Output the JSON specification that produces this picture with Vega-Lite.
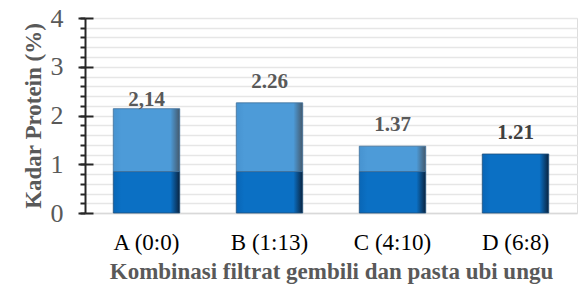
{
  "$schema": "https://vega.github.io/schema/vega-lite/v6.json",
  "width": 492,
  "height": 195,
  "autosize": {"type": "none"},
  "padding": {"left": 85, "top": 18, "right": 4, "bottom": 86},
  "background": "white",
  "config": {"font": "'Liberation Serif', 'Times New Roman', serif"},
  "datasets": {
    "bars": [
      {"kategori": "A (0:0)", "bawah": 0, "atas": 0.85, "bagian": "gelap"},
      {"kategori": "A (0:0)", "bawah": 0.85, "atas": 2.14, "bagian": "terang"},
      {"kategori": "B (1:13)", "bawah": 0, "atas": 0.85, "bagian": "gelap"},
      {"kategori": "B (1:13)", "bawah": 0.85, "atas": 2.26, "bagian": "terang"},
      {"kategori": "C (4:10)", "bawah": 0, "atas": 0.85, "bagian": "gelap"},
      {"kategori": "C (4:10)", "bawah": 0.85, "atas": 1.37, "bagian": "terang"},
      {"kategori": "D (6:8)", "bawah": 0, "atas": 1.21, "bagian": "gelap"}
    ],
    "labels": [
      {"kategori": "A (0:0)", "nilai": 2.14, "teks": "2,14"},
      {"kategori": "B (1:13)", "nilai": 2.26, "teks": "2.26"},
      {"kategori": "C (4:10)", "nilai": 1.37, "teks": "1.37"},
      {"kategori": "D (6:8)", "nilai": 1.21, "teks": "1.21"}
    ]
  },
  "encoding": {
    "x": {
      "field": "kategori",
      "type": "nominal",
      "sort": null,
      "scale": {"paddingInner": 0.46, "paddingOuter": 0.23},
      "axis": {
        "title": "Kombinasi filtrat gembili dan pasta ubi ungu",
        "titleFont": "'Liberation Serif', 'Times New Roman', serif",
        "titleFontSize": 23,
        "titleFontWeight": "bold",
        "titleColor": "#595959",
        "titlePadding": 6,
        "labelFont": "'Liberation Serif', 'Times New Roman', serif",
        "labelFontSize": 23,
        "labelColor": "#000000",
        "labelAngle": 0,
        "labelPadding": 18,
        "ticks": false,
        "domainColor": "#D9D9D9",
        "domainWidth": 1.5,
        "grid": false
      }
    }
  },
  "layer": [
    {
      "data": {"name": "bars"},
      "transform": [{"filter": "datum.bagian === 'gelap'"}],
      "mark": {
        "type": "bar",
        "stroke": "#1F4F7A",
        "strokeWidth": 0.8,
        "color": {"gradient": "linear", "x1": 0, "x2": 1, "y1": 0, "y2": 0, "stops": [
          {"offset": 0, "color": "#0966B6"},
          {"offset": 0.12, "color": "#0B70C4"},
          {"offset": 0.86, "color": "#0B70C4"},
          {"offset": 1, "color": "#0A2440"}
        ]}
      },
      "encoding": {
        "y": {
          "field": "bawah",
          "type": "quantitative",
          "scale": {"domain": [0, 4], "nice": false},
          "axis": {
            "orient": "left",
            "values": [0, 0.2, 0.4, 0.6, 0.8, 1, 1.2, 1.4, 1.6, 1.8, 2, 2.2, 2.4, 2.6, 2.8, 3, 3.2, 3.4, 3.6, 3.8, 4],
            "grid": true,
            "gridColor": "#E6E6E6",
            "gridWidth": 1.5,
            "labels": false,
            "domain": false,
            "ticks": true,
            "tickSize": 5,
            "tickWidth": 2,
            "tickColor": "#262626",
            "title": null
          }
        },
        "y2": {"field": "atas"}
      }
    },
    {
      "data": {"name": "bars"},
      "transform": [{"filter": "datum.bagian === 'terang'"}],
      "mark": {
        "type": "bar",
        "stroke": "#3F6F99",
        "strokeWidth": 0.8,
        "color": {"gradient": "linear", "x1": 0, "x2": 1, "y1": 0, "y2": 0, "stops": [
          {"offset": 0, "color": "#4793D0"},
          {"offset": 0.12, "color": "#4D9BD8"},
          {"offset": 0.86, "color": "#4D9BD8"},
          {"offset": 1, "color": "#44596C"}
        ]}
      },
      "encoding": {
        "y": {"field": "bawah", "type": "quantitative", "axis": null},
        "y2": {"field": "atas"}
      }
    },
    {
      "data": {"name": "labels"},
      "transform": [{"filter": "datum.kategori === 'A (0:0)'"}],
      "mark": {"type": "text", "baseline": "bottom", "dy": 1, "font": "'Liberation Serif', 'Times New Roman', serif", "fontSize": 21, "fontWeight": "bold", "color": "#595959"},
      "encoding": {
        "y": {
          "field": "nilai",
          "type": "quantitative",
          "axis": {
            "orient": "left",
            "values": [0, 1, 2, 3, 4],
            "grid": false,
            "labels": false,
            "domain": false,
            "ticks": true,
            "tickSize": -8,
            "tickWidth": 2,
            "tickColor": "#262626",
            "title": null
          }
        },
        "text": {"field": "teks"}
      }
    },
    {
      "data": {"name": "labels"},
      "transform": [{"filter": "datum.kategori !== 'A (0:0)'"}],
      "mark": {"type": "text", "baseline": "bottom", "dy": -11, "font": "'Liberation Serif', 'Times New Roman', serif", "fontSize": 21, "fontWeight": "bold"},
      "encoding": {
        "y": {
          "field": "nilai",
          "type": "quantitative",
          "axis": {
            "orient": "left",
            "values": [0, 1, 2, 3, 4],
            "grid": false,
            "labels": true,
            "labelFont": "'Liberation Serif', 'Times New Roman', serif",
            "labelFontSize": 26,
            "labelColor": "#595959",
            "labelPadding": 15,
            "domain": true,
            "domainColor": "#262626",
            "domainWidth": 2,
            "ticks": true,
            "tickSize": 7,
            "tickWidth": 2,
            "tickColor": "#262626",
            "title": "Kadar Protein (%)",
            "titleFont": "'Liberation Serif', 'Times New Roman', serif",
            "titleFontSize": 23,
            "titleFontWeight": "bold",
            "titleColor": "#595959",
            "titlePadding": 5
          }
        },
        "text": {"field": "teks"},
        "color": {
          "field": "kategori",
          "type": "nominal",
          "scale": {"domain": ["B (1:13)", "C (4:10)", "D (6:8)"], "range": ["#595959", "#595959", "#404040"]},
          "legend": null
        }
      }
    }
  ],
  "resolve": {"axis": {"y": "independent"}, "scale": {"y": "shared", "color": "independent"}}
}
